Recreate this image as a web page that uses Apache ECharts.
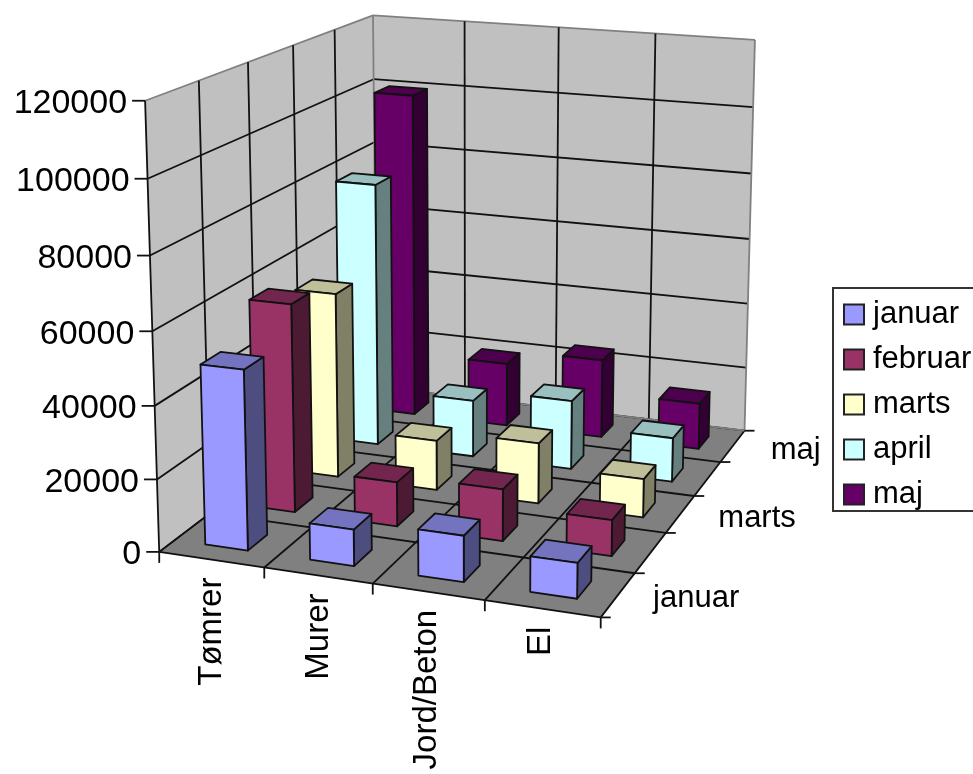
<!DOCTYPE html>
<html>
<head>
<meta charset="utf-8">
<title>3D søjlediagram</title>
<script src="https://cdn.jsdelivr.net/npm/echarts@6/dist/echarts.min.js"></script>
<style>
  html, body { margin: 0; padding: 0; background: #fff; overflow: hidden; }
  #chart { width: 973px; height: 774px; }
</style>
</head>
<body>
<div id="chart"></div>
<script>
// data
var trades = ['Tømrer', 'Murer', 'Jord/Beton', 'El'];
var months = ['januar', 'februar', 'marts', 'april', 'maj'];
var depthLabels = ['januar', '', 'marts', '', 'maj'];
var valueTicks = [0, 20000, 40000, 60000, 80000, 100000, 120000];

var januar = [49500, 10000, 12500, 9500];
var februar = [59000, 12500, 14500, 10000];
var marts = [54000, 14500, 17500, 11000];
var april = [79000, 17000, 20500, 13000];
var maj = [100000, 19500, 24000, 14000];
var monthValues = [januar, februar, marts, april, maj];
var monthColors = ['#9999FF', '#993366', '#FFFFCC', '#CCFFFF', '#660066'];

var FONT = '"Liberation Sans", Arial, sans-serif';
var LINE = '#111';

// camera: fit a projective matrix to the corners of the box [u, v, h] -> [px, py]
var anchors = [
  [0, 0, 0, 160, 553], [1, 0, 0, 600, 617], [1, 1, 0, 745, 431], [0, 1, 0, 376, 386],
  [0, 0, 1, 145, 100], [0, 1, 1, 373, 16], [1, 1, 1, 755, 40]
];

function solveCamera() {
  var rows = [], rhs = [];
  anchors.forEach(function (a) {
    var u = a[0], v = a[1], h = a[2], x = a[3], y = a[4];
    rows.push([u, v, h, 1, 0, 0, 0, 0, -x * u, -x * v, -x * h]); rhs.push(x);
    rows.push([0, 0, 0, 0, u, v, h, 1, -y * u, -y * v, -y * h]); rhs.push(y);
  });
  // normal equations, then gauss
  var n = 11, m = [];
  for (var i = 0; i < n; i++) {
    m[i] = [];
    for (var j = 0; j <= n; j++) {
      var s = 0;
      for (var r = 0; r < rows.length; r++) s += rows[r][i] * (j < n ? rows[r][j] : rhs[r]);
      m[i][j] = s;
    }
  }
  for (var c = 0; c < n; c++) {
    var p = c;
    for (var k = c + 1; k < n; k++) if (Math.abs(m[k][c]) > Math.abs(m[p][c])) p = k;
    var t = m[c]; m[c] = m[p]; m[p] = t;
    for (var k2 = 0; k2 < n; k2++) {
      if (k2 === c) continue;
      var f = m[k2][c] / m[c][c];
      for (var j2 = c; j2 <= n; j2++) m[k2][j2] -= f * m[c][j2];
    }
  }
  return m.map(function (row, idx) { return row[n] / row[idx]; });
}
var cam = solveCamera();

function project(u, v, h) {
  var w = cam[8] * u + cam[9] * v + cam[10] * h + 1;
  return [
    (cam[0] * u + cam[1] * v + cam[2] * h + cam[3]) / w,
    (cam[4] * u + cam[5] * v + cam[6] * h + cam[7]) / w
  ];
}

function shade(hex, k) {
  var n = parseInt(hex.slice(1), 16);
  return 'rgb(' + Math.round((n >> 16) * k) + ',' + Math.round(((n >> 8) & 255) * k) + ',' + Math.round((n & 255) * k) + ')';
}

function poly(points, fill, stroke, lw) {
  return { type: 'polygon', shape: { points: points }, style: { fill: fill, stroke: stroke || null, lineWidth: lw || 0, lineJoin: 'round' } };
}
function line(a, b, color, lw) {
  return { type: 'line', shape: { x1: a[0], y1: a[1], x2: b[0], y2: b[1] }, style: { stroke: color, lineWidth: lw || 1.8 } };
}
function label(text, x, y, align, size, rotation) {
  return {
    type: 'text', x: x, y: y, rotation: rotation || 0,
    style: { text: text, font: size + 'px ' + FONT, fill: '#000', align: align, verticalAlign: 'middle' }
  };
}

// walls, floor, gridlines, ticks and axis labels
function renderFrame(params, api) {
  var cs = params.coordSys, kids = [];
  function hOf(val) { return (cs.y + cs.height - api.coord([0, val])[1]) / cs.height; }
  function uOf(i) { return i / trades.length; }
  function vOf(i) { return i / months.length; }
  var i;

  kids.push(poly([project(0, 0, 0), project(0, 1, 0), project(0, 1, 1), project(0, 0, 1)], '#C0C0C0'));
  kids.push(poly([project(0, 1, 0), project(1, 1, 0), project(1, 1, 1), project(0, 1, 1)], '#C0C0C0'));
  kids.push(poly([project(0, 0, 0), project(1, 0, 0), project(1, 1, 0), project(0, 1, 0)], '#808080'));

  // wall gridlines
  valueTicks.forEach(function (val, idx) {
    var h = hOf(val);
    var top = idx === valueTicks.length - 1;
    kids.push(line(project(0, 0, h), project(0, 1, h), top ? '#808080' : LINE));
    kids.push(line(project(0, 1, h), project(1, 1, h), top ? '#808080' : LINE));
  });
  for (i = 0; i <= months.length; i++) {
    kids.push(line(project(0, vOf(i), 0), project(0, vOf(i), 1), i === months.length ? '#808080' : LINE));
  }
  for (i = 1; i <= trades.length; i++) {
    kids.push(line(project(uOf(i), 1, 0), project(uOf(i), 1, 1), i === trades.length ? '#808080' : LINE));
  }
  // floor gridlines
  for (i = 0; i <= trades.length; i++) {
    kids.push(line(project(uOf(i), 0, 0), project(uOf(i), 1, 0), LINE));
  }
  for (i = 0; i <= months.length; i++) {
    kids.push(line(project(0, vOf(i), 0), project(1, vOf(i), 0), i === months.length ? '#808080' : LINE));
  }

  // value axis
  valueTicks.forEach(function (val) {
    var p = project(0, 0, hOf(val));
    kids.push(line([p[0] - 13, p[1]], p, LINE));
    kids.push(label(String(val), p[0] - 18, p[1] + 3, 'right', 34));
  });
  // trade axis
  for (i = 0; i <= trades.length; i++) {
    var q = project(uOf(i), 0, 0);
    kids.push(line(q, [q[0], q[1] + 11], LINE));
  }
  trades.forEach(function (name, idx) {
    var q = project(uOf(idx + 0.5), 0, 0);
    kids.push(label(name, q[0] + (idx < 2 ? 1 : -1), q[1] + 18, 'right', 33, Math.PI / 2));
  });
  // depth axis
  for (i = 0; i <= months.length; i++) {
    var e = project(1, vOf(i), 0);
    kids.push(line(e, [e[0] + 10, e[1]], LINE));
  }
  depthLabels.forEach(function (name, idx) {
    if (!name) return;
    var e = project(1, vOf(idx + 0.5), 0);
    kids.push(label(name, e[0] + 38 - (idx === 0 ? 3 : 0), e[1] + 4, 'left', 31));
  });
  return { type: 'group', children: kids };
}

var BAR_W = 0.205, BAR_D = 0.2;   // half sizes as share of a cell

function barRenderer(monthIdx) {
  return function (params, api) {
    var cs = params.coordSys;
    var color = monthColors[monthIdx];
    var base = api.coord([api.value(0), 0]);
    var tip = api.coord([api.value(0), api.value(1)]);
    var uc = (base[0] - cs.x) / cs.width;
    var h = (base[1] - tip[1]) / cs.height;
    var vc = (monthIdx + 0.5) / months.length;
    var du = BAR_W / trades.length, dv = BAR_D / months.length;
    var u0 = uc - du, u1 = uc + du, v0 = vc - dv, v1 = vc + dv;
    return {
      type: 'group',
      children: [
        poly([project(u1, v0, 0), project(u1, v1, 0), project(u1, v1, h), project(u1, v0, h)], shade(color, 0.5), LINE, 1.8),
        poly([project(u0, v0, h), project(u1, v0, h), project(u1, v1, h), project(u0, v1, h)], shade(color, 0.75), LINE, 1.8),
        poly([project(u0, v0, 0), project(u1, v0, 0), project(u1, v0, h), project(u0, v0, h)], color, LINE, 1.8)
      ]
    };
  };
}

var series = [{
  type: 'custom', name: 'frame', z: 1, silent: true, clip: false,
  data: [[0, 0]], encode: { x: 0, y: 1 }, renderItem: renderFrame
}];
months.forEach(function (name, idx) {
  series.push({
    type: 'custom', name: name, z: 10 - idx, silent: true, clip: false,
    itemStyle: { color: monthColors[idx], borderColor: '#222', borderWidth: 2 },
    encode: { x: 0, y: 1 },
    data: monthValues[idx].map(function (v, i) { return [i, v]; }),
    renderItem: barRenderer(idx)
  });
});

var chart = echarts.init(document.getElementById('chart'));
chart.setOption({
  animation: false,
  backgroundColor: '#fff',
  grid: { left: 0, right: 0, top: 0, bottom: 0 },
  xAxis: { type: 'category', data: trades, show: false },
  yAxis: { type: 'value', min: 0, max: 120000, show: false },
  legend: {
    data: months,
    orient: 'vertical',
    left: 833,
    top: 288,
    icon: 'rect',
    itemWidth: 20,
    itemHeight: 20,
    itemGap: 14,
    padding: [11, 30, 1, 10],
    borderColor: '#333',
    borderWidth: 2,
    selectedMode: false,
    textStyle: { fontFamily: FONT, fontSize: 31, color: '#000', padding: [0, 0, 0, 4] }
  },
  series: series
});
</script>
</body>
</html>
